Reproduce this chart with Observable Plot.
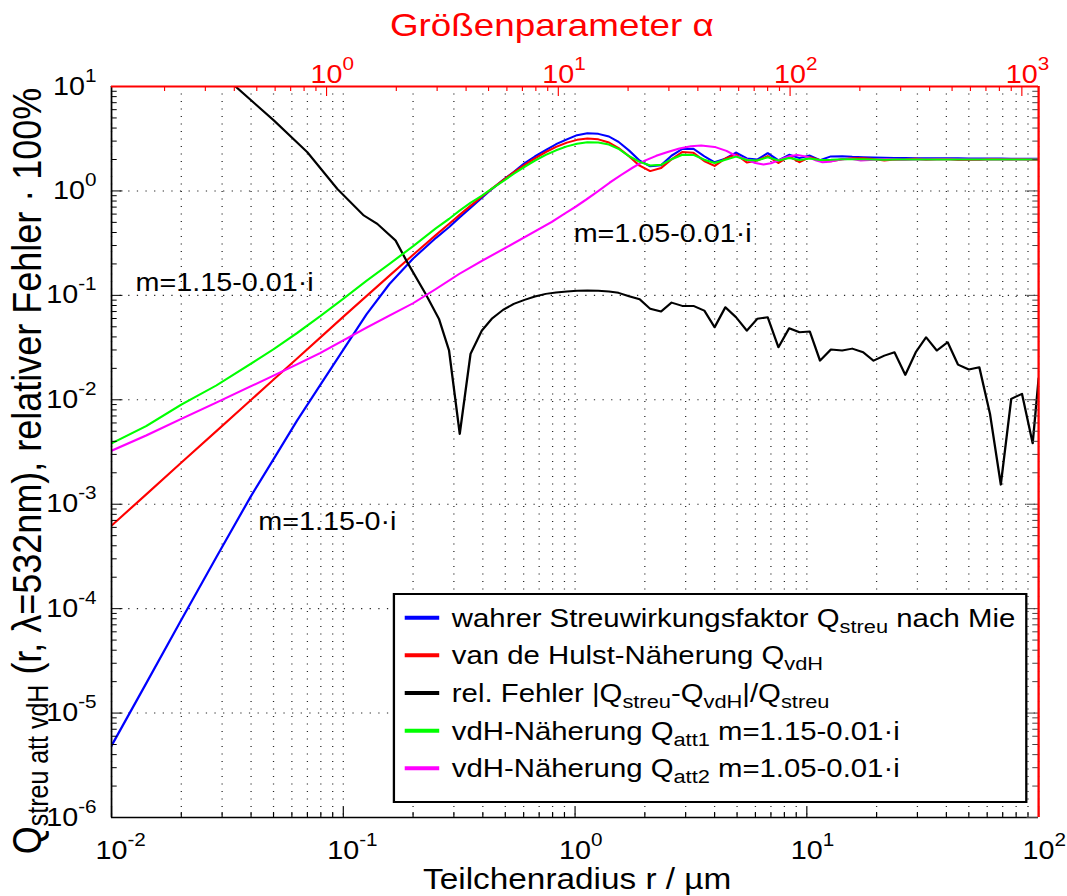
<!DOCTYPE html>
<html lang="de">
<head>
<meta charset="utf-8">
<title>Streuwirkungsfaktor nach Mie und van de Hulst</title>
<script src="https://cdn.jsdelivr.net/npm/d3@7"></script>
<script src="https://cdn.jsdelivr.net/npm/@observablehq/plot@0.6"></script>
<style>
  html, body { margin: 0; padding: 0; background: #fff; }
  #chart { width: 1067px; height: 896px; overflow: hidden; }
</style>
</head>
<body>
<div id="chart"></div>
<script>
// ---------------------------------------------------------------------------
// Data: scattering efficiency Q(r) at λ = 532 nm, particle radius r in µm
// ---------------------------------------------------------------------------

// radius grid shared by the Mie, van de Hulst and Q_att1 curves
const radius = [0.01, 0.0141, 0.02, 0.0283, 0.04, 0.05, 0.0631, 0.0794, 0.1, 0.126, 0.158, 0.2, 0.251,
  0.286, 0.318, 0.354, 0.396, 0.437, 0.489, 0.544, 0.605, 0.671, 0.747, 0.828, 0.922, 1.02, 1.13, 1.26,
  1.40, 1.54, 1.71, 1.90, 2.11, 2.35, 2.61, 2.90, 3.24, 3.61, 4.00, 4.45, 4.95, 5.51, 6.11, 6.78, 7.54,
  8.39, 9.30, 10.3, 11.4, 12.7, 14.2, 15.7, 17.5, 19.4, 21.6, 23.9, 26.6, 29.5, 32.7, 36.4, 40.5, 44.9,
  50.0, 55.5, 61.7, 68.7, 76.2, 84.8, 94.3, 100];

// true scattering efficiency after Mie, m = 1.15 - 0i
const qMie = [4.87e-6, 1.92e-5, 7.8e-5, 3.1e-4, 1.2e-3, 2.7e-3, 6.3e-3, 0.0138, 0.0302, 0.066, 0.128, 0.225, 0.355,
  0.45, 0.56, 0.69, 0.86, 1.04, 1.27, 1.52, 1.84, 2.14, 2.46, 2.80, 3.12, 3.42, 3.56, 3.52,
  3.32, 2.95, 2.44, 1.95, 1.72, 1.76, 2.18, 2.52, 2.53, 2.15, 1.88, 2.04, 2.33, 2.05, 2.00, 2.30, 1.96,
  2.22, 2.06, 2.18, 1.97, 2.14, 2.15, 2.12, 2.10, 2.09, 2.08, 2.07, 2.07, 2.06, 2.06, 2.05, 2.05, 2.05,
  2.04, 2.04, 2.04, 2.04, 2.03, 2.03, 2.03, 2.03];

// van de Hulst approximation, m = 1.15
const qVdh = [6.24e-4, 1.24e-3, 2.50e-3, 5.0e-3, 9.98e-3, 0.0156, 0.0248, 0.0393, 0.0623, 0.0985, 0.154, 0.244, 0.378,
  0.484, 0.592, 0.722, 0.882, 1.050, 1.266, 1.507, 1.772, 2.051, 2.352, 2.639, 2.899, 3.085, 3.172, 3.118,
  2.908, 2.573, 2.144, 1.743, 1.548, 1.657, 2.012, 2.356, 2.325, 1.934, 1.738, 2.047, 2.229, 1.872, 1.954, 2.154, 1.856,
  2.139, 1.882, 2.102, 1.974, 1.925, 2.012, 2.057, 2.050, 2.025, 1.955, 1.994, 1.998, 2.029, 1.992, 2.009, 2.022, 1.979,
  1.978, 1.980, 2.018, 2.016, 2.005, 2.012, 1.989, 1.993];

// attenuated van de Hulst approximation Q_att1, m = 1.15 - 0.01i
const qAtt1 = [3.83e-3, 5.6e-3, 9.0e-3, 0.0137, 0.0222, 0.0305, 0.0435, 0.063, 0.093, 0.138, 0.2, 0.295, 0.44,
  0.54, 0.65, 0.77, 0.90, 1.05, 1.24, 1.46, 1.70, 1.95, 2.21, 2.45, 2.67, 2.83, 2.93, 2.91,
  2.78, 2.53, 2.15, 1.90, 1.75, 1.78, 2.01, 2.22, 2.21, 1.99, 1.85, 1.99, 2.13, 1.98, 1.96, 2.10, 1.96,
  2.07, 1.98, 2.04, 1.98, 1.99, 2.01, 2.01, 2.01, 2.00, 1.99, 2.00, 2.00, 2.00, 2.00, 2.00, 2.00, 2.00,
  2.00, 2.00, 2.00, 2.00, 2.00, 2.00, 2.00, 2.00];

// attenuated van de Hulst approximation Q_att2, m = 1.05 - 0.01i
const radiusAtt2 = [0.01, 0.0141, 0.02, 0.0283, 0.04, 0.05, 0.0631, 0.0794, 0.1, 0.126, 0.158, 0.2, 0.251,
  0.316, 0.398, 0.501, 0.631, 0.794, 0.9, 1.0, 1.12, 1.26, 1.41, 1.58, 1.78, 2.0, 2.24, 2.51, 2.82, 3.16,
  3.5, 4.0, 4.5, 5.0, 5.5, 6.0, 6.5, 7.0, 7.5, 8.0, 8.5, 9.1, 10.0, 11.0, 11.7, 12.5, 14.0, 15.5, 17.1,
  19.5, 22.0, 26.0, 30.0, 40.0, 55.0, 75.0, 100];
const qAtt2 = [3.25e-3, 4.55e-3, 6.55e-3, 9.4e-3, 0.0135, 0.0170, 0.0218, 0.0280, 0.037, 0.049, 0.064, 0.084, 0.115,
  0.16, 0.215, 0.285, 0.38, 0.505, 0.605, 0.70, 0.83, 1.0, 1.2, 1.42, 1.68, 1.95, 2.17, 2.36, 2.55, 2.68,
  2.72, 2.64, 2.42, 2.14, 2.00, 1.85, 1.79, 1.84, 1.95, 2.07, 2.16, 2.21, 2.13, 1.95, 1.88, 1.90, 2.00, 2.03, 1.96,
  1.99, 2.02, 1.99, 2.00, 2.01, 2.00, 2.00, 2.00];

// relative error |Q_streu - Q_vdH| / Q_streu
const radiusErr = [0.03, 0.0343, 0.0502, 0.0699, 0.0942, 0.1227, 0.1402, 0.1681, 0.1888, 0.2265, 0.2586,
  0.286, 0.318, 0.354, 0.396, 0.437, 0.489, 0.544, 0.605, 0.671, 0.747, 0.828, 0.922, 1.02, 1.13, 1.26,
  1.40, 1.54, 1.71, 1.90, 2.11, 2.35, 2.61, 2.90, 3.24, 3.61, 4.00, 4.45, 4.95, 5.51, 6.11, 6.78, 7.54,
  8.39, 9.30, 10.3, 11.4, 12.7, 14.2, 15.7, 17.5, 19.4, 21.6, 23.9, 26.6, 29.5, 32.7, 36.4, 40.5, 44.9,
  50.0, 55.5, 61.7, 68.7, 76.2, 84.8, 94.3, 100];
const qErr = [13.5, 10, 4.72, 2.35, 1.047, 0.581, 0.484, 0.335, 0.2075, 0.1033, 0.0596,
  0.0296, 0.00471, 0.0275, 0.046, 0.0596, 0.0726, 0.0829, 0.0906, 0.0974, 0.1033, 0.1063, 0.1088, 0.1104, 0.1112, 0.1104,
  0.1088, 0.1057, 0.098, 0.0918, 0.0743, 0.070, 0.0853, 0.0793, 0.0793, 0.0715, 0.0495, 0.0769, 0.0617, 0.046, 0.0596, 0.0617, 0.0318,
  0.0484, 0.0443, 0.045, 0.0237, 0.0303, 0.0296, 0.0309, 0.0285, 0.0237, 0.0265, 0.0285, 0.0173, 0.0285, 0.0397, 0.0296, 0.0356, 0.0217,
  0.0195, 0.0205, 0.00733, 0.00154, 0.0102, 0.0114, 0.00383, 0.016];

// in-plot annotations (refractive index of the curves)
const noteText = ["m=1.15-0.01·i", "m=1.05-0.01·i", "m=1.15-0·i"];
const noteRadius = [0.0127, 0.986, 0.043];
const noteQ = [0.13, 0.39, 6.8e-4];

// legend entries: [text, subscript] pieces
const legendColors = ["#0000ff", "#ff0000", "#000000", "#00ff00", "#ff00ff"];
const legendParts = [
  [["wahrer Streuwirkungsfaktor Q", 0], ["streu", 1], [" nach Mie", 0]],
  [["van de Hulst-Näherung Q", 0], ["vdH", 1]],
  [["rel. Fehler |Q", 0], ["streu", 1], ["-Q", 0], ["vdH", 1], ["|/Q", 0], ["streu", 1]],
  [["vdH-Näherung Q", 0], ["att1", 1], [" m=1.15-0.01·i", 0]],
  [["vdH-Näherung Q", 0], ["att2", 1], [" m=1.05-0.01·i", 0]]
];

// axis ticks
const xMajor = [0.01, 0.1, 1, 10, 100];
const yMajor = [1e-6, 1e-5, 1e-4, 1e-3, 1e-2, 1e-1, 1, 10];
const alphaMajor = [1, 10, 100, 1000];
const minorsOf = (lo, hi) => d3.range(lo, hi).flatMap(e => d3.range(2, 10).map(m => +(m * 10 ** e).toPrecision(3)));
const xMinor = minorsOf(-2, 2);
const yMinor = minorsOf(-6, 1);
const alphaMinor = minorsOf(-1, 3);

// ---------------------------------------------------------------------------
// Layout
// ---------------------------------------------------------------------------
const FONT = "'Liberation Sans', Arial, Helvetica, sans-serif";
const WIDTH = 1067, HEIGHT = 896;
const W0 = 928;                          // layout width, stretched to WIDTH
const ML = 96.5, MR = 25.2, MT = 86, MB = 79;
const innerW = W0 - ML - MR, innerH = HEIGHT - MT - MB;
const LAMBDA = 0.532;                    // wavelength / µm
const SIZE_PER_UM = 2 * Math.PI / LAMBDA; // size parameter α = 2πr/λ
const alphaToR = a => a / SIZE_PER_UM;
const pow10 = v => "10^" + Math.round(Math.log10(v));
const X0 = 0.01, X1 = 100, Y0 = 1e-6, Y1 = 10;

const rows = (r, q) => r.map((d, i) => ({r: d, q: q[i]}));
const notes = noteText.map((t, i) => ({t, r: noteRadius[i], q: noteQ[i]}));

const dotted = {stroke: "#000", strokeOpacity: 0.85, strokeWidth: 1.1, strokeDasharray: "1.1,6.4"};
const curve = color => ({x: "r", y: "q", stroke: color, strokeWidth: 2, clip: true});
const id = d => d;

// short inward ticks: full-frame rules cut back with pixel insets
const ticksLeft = (v, len, stroke = "#000") => Plot.ruleY(v, {y: id, stroke, insetRight: innerW - len});
const ticksRight = (v, len, stroke = "#000") => Plot.ruleY(v, {y: id, stroke, insetLeft: innerW - len});
const ticksBottom = (v, len, stroke = "#000") => Plot.ruleX(v, {x: id, stroke, insetTop: innerH - len});
const ticksTop = (v, len, stroke = "#000") => Plot.ruleX(v, {x: id, stroke, insetBottom: innerH - len});

const chart = Plot.plot({
  width: W0,
  height: HEIGHT,
  marginLeft: ML,
  marginRight: MR,
  marginTop: MT,
  marginBottom: MB,
  x: {type: "log", domain: [X0, X1], axis: null},
  y: {type: "log", domain: [Y0, Y1], axis: null},
  style: {fontFamily: FONT, fontSize: "25px", color: "#000", background: "#fff"},
  marks: [
    Plot.ruleX(xMajor.concat(xMinor), {x: id, ...dotted}),
    Plot.ruleY(yMajor, {y: id, ...dotted}),

    Plot.line(rows(radius, qMie), curve(legendColors[0])),
    Plot.line(rows(radius, qVdh), curve(legendColors[1])),
    Plot.line(rows(radiusErr, qErr), curve(legendColors[2])),
    Plot.line(rows(radiusAtt2, qAtt2), curve(legendColors[4])),
    Plot.line(rows(radius, qAtt1), curve(legendColors[3])),

    Plot.text(notes, {x: "r", y: "q", text: "t", textAnchor: "start", fontSize: 25, fill: "#000"}),

    // axes box: black radius / Q axes, red size-parameter axes
    Plot.ruleX([X0], {x: id, stroke: "#000", strokeWidth: 1.5}),
    Plot.ruleY([Y0], {y: id, stroke: "#000", strokeWidth: 1.5}),

    ticksLeft(yMajor, 10), ticksLeft(yMinor, 5),
    ticksRight(yMajor, 10, "#444"), ticksRight(yMinor, 5, "#444"),
    ticksBottom(xMajor, 10), ticksBottom(xMinor, 5),
    ticksTop(alphaMajor.map(alphaToR), 10, "#ff0000"), ticksTop(alphaMinor.map(alphaToR), 5, "#ff0000"),

    Plot.ruleX([X1], {x: id, stroke: "#ff0000", strokeWidth: 2}),
    Plot.ruleY([Y1], {y: id, stroke: "#ff0000", strokeWidth: 2}),

    // tick labels
    Plot.text(yMajor, {x: X0, y: id, text: pow10, dx: -13, textAnchor: "end", fontSize: 25, fill: "#000"}),
    Plot.text(xMajor, {x: id, y: Y0, text: pow10, dx: -14, dy: 24, lineAnchor: "top", textAnchor: "start",
      fontSize: 25, fill: "#000"}),
    Plot.text(alphaMajor.map(alphaToR), {x: id, y: Y1, text: r => pow10(r * SIZE_PER_UM), dx: -14, dy: -4,
      lineAnchor: "bottom", textAnchor: "start", fontSize: 25, fill: "#ff0000"})
  ]
});

// stretch the layout horizontally to the final figure size
chart.setAttribute("width", WIDTH);
chart.setAttribute("height", HEIGHT);
chart.setAttribute("viewBox", `0 0 ${W0} ${HEIGHT}`);
chart.setAttribute("preserveAspectRatio", "none");
chart.style.width = WIDTH + "px";
chart.style.height = HEIGHT + "px";
chart.style.maxWidth = "none";
chart.style.overflow = "visible";

const svg = d3.select(chart);

// power-of-ten tick labels with raised exponent
svg.selectAll("text").each(function () {
  if (this.querySelector("tspan")) return;
  const m = /^10\^(.+)$/.exec(this.textContent);
  if (!m) return;
  const t = d3.select(this);
  t.text(null);
  t.append("tspan").text("10");
  t.append("tspan").attr("font-size", 18).attr("dy", -13).text(m[1]);
});

// text with subscripts
function richText(sel, parts, size, subSize, shift) {
  let down = false;
  for (const [txt, sub] of parts) {
    const ts = sel.append("tspan").text(txt);
    if (sub && !down) { ts.attr("font-size", subSize).attr("dy", shift); down = true; }
    else if (!sub && down) { ts.attr("font-size", size).attr("dy", -shift); down = false; }
    else if (sub) ts.attr("font-size", subSize);
  }
}

// axis titles
svg.append("text")
  .attr("x", 480).attr("y", 36).attr("text-anchor", "middle")
  .attr("font-family", FONT).attr("font-size", 32).attr("fill", "#ff0000")
  .text("Größenparameter α");

svg.append("text")
  .attr("x", 502).attr("y", 889).attr("text-anchor", "middle")
  .attr("font-family", FONT).attr("font-size", 29).attr("fill", "#000")
  .text("Teilchenradius r / µm");

const ylab = svg.append("text")
  .attr("transform", "translate(36,471) rotate(-90)").attr("text-anchor", "middle")
  .attr("font-family", FONT).attr("font-size", 36).attr("fill", "#000");
richText(ylab, [["Q", 0], ["streu att vdH", 1], [" (r, λ=532nm), relativer Fehler · 100%", 0]], 36, 25, 6);

// legend box
const lg = svg.append("g").attr("font-family", FONT).attr("font-size", 25.5);
lg.append("rect")
  .attr("x", 342.6).attr("y", 594).attr("width", 550).attr("height", 208)
  .attr("fill", "#fff").attr("stroke", "#000").attr("stroke-width", 2);
legendParts.forEach((parts, i) => {
  const y = 617.7 + i * 37.65;
  lg.append("line").attr("x1", 352).attr("x2", 382).attr("y1", y).attr("y2", y)
    .attr("stroke", legendColors[i]).attr("stroke-width", 4);
  const t = lg.append("text").attr("x", 393).attr("y", y + 9)
    .attr("text-anchor", "start").attr("fill", "#000");
  richText(t, parts, 25.5, 19, 6);
});

document.getElementById("chart").appendChild(chart);
</script>
</body>
</html>
